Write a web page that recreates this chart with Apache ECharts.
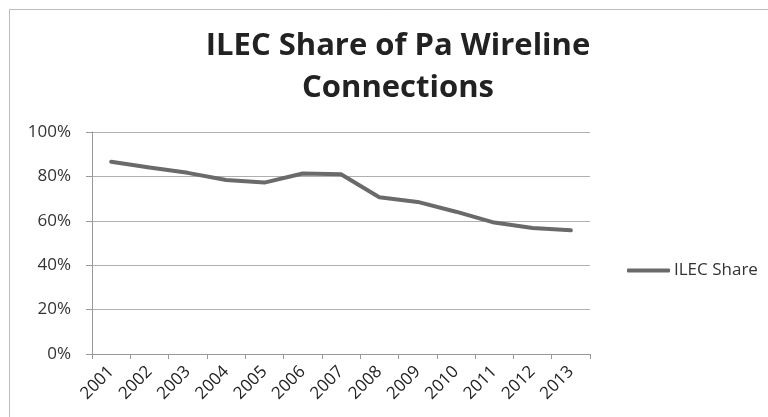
<!DOCTYPE html>
<html><head><meta charset="utf-8">
<script src="https://cdn.jsdelivr.net/npm/echarts@6/dist/echarts.min.js"></script>
<style>html,body{margin:0;padding:0;background:#fff}#c{width:768px;height:417px}</style>
</head><body><div id="c"></div>
<script>
const years = ['2001','2002','2003','2004','2005','2006','2007','2008','2009','2010','2011','2012','2013'];
const ilecShare = [86.6, 84.0, 81.6, 78.4, 77.2, 81.3, 81.0, 70.6, 68.5, 64.1, 59.2, 56.8, 55.7];
const yTicks = [0, 20, 40, 60, 80, 100];
const seriesName = 'ILEC Share';
const titleText = 'ILEC Share of Pa Wireline\nConnections';

const chart = echarts.init(document.getElementById('c'), null, {renderer:'canvas'});
const font = 'Open Sans';
chart.setOption({
  backgroundColor: '#fff',
  animation: false,
  title: {
    text: titleText, left: 393, top: 20, textAlign: 'center',
    textStyle: {fontFamily: font, fontWeight: 'bold', fontSize: 31, color: '#222', lineHeight: 42}
  },
  graphic: [{type:'rect', shape:{x:9.5, y:9.5, width:770, height:420}, style:{fill:null, stroke:'#bbb', lineWidth:1}, silent:true}],
  legend: {
    data: [seriesName], left: 622, top: 257, icon: 'roundRect', itemWidth: 43, itemHeight: 4, itemGap: 4,
    textStyle: {fontFamily: font, fontSize: 17, color: '#333', padding:[0,0,0,-1]}
  },
  grid: {left: 92, right: 178, top: 132, bottom: 63},
  xAxis: {
    type: 'category', data: years, boundaryGap: true,
    axisLine: {lineStyle: {color: '#999', width: 1}},
    axisTick: {show: true, length: 5, lineStyle: {color: '#999'}},
    axisLabel: {rotate: 45, fontFamily: font, fontSize: 17, color: '#222', margin: 15, interval: 0}
  },
  yAxis: {
    type: 'value', min: 0, max: 100, interval: 20,
    axisLine: {show: true, lineStyle: {color: '#999'}},
    axisTick: {show: true, length: 6, lineStyle: {color: '#999'}},
    splitLine: {lineStyle: {color: '#b0b0b0', width: 1}},
    axisLabel: {formatter: v => yTicks.includes(v) ? v + '%' : '', fontFamily: font, fontSize: 17, color: '#333', margin: 21}
  },
  series: [{
    name: seriesName, type: 'line', data: ilecShare, symbol: 'none',
    lineStyle: {color: '#6a6a6a', width: 4, cap: 'round', join: 'round'}, itemStyle: {color: '#6a6a6a'}
  }]
});
</script></body></html>
